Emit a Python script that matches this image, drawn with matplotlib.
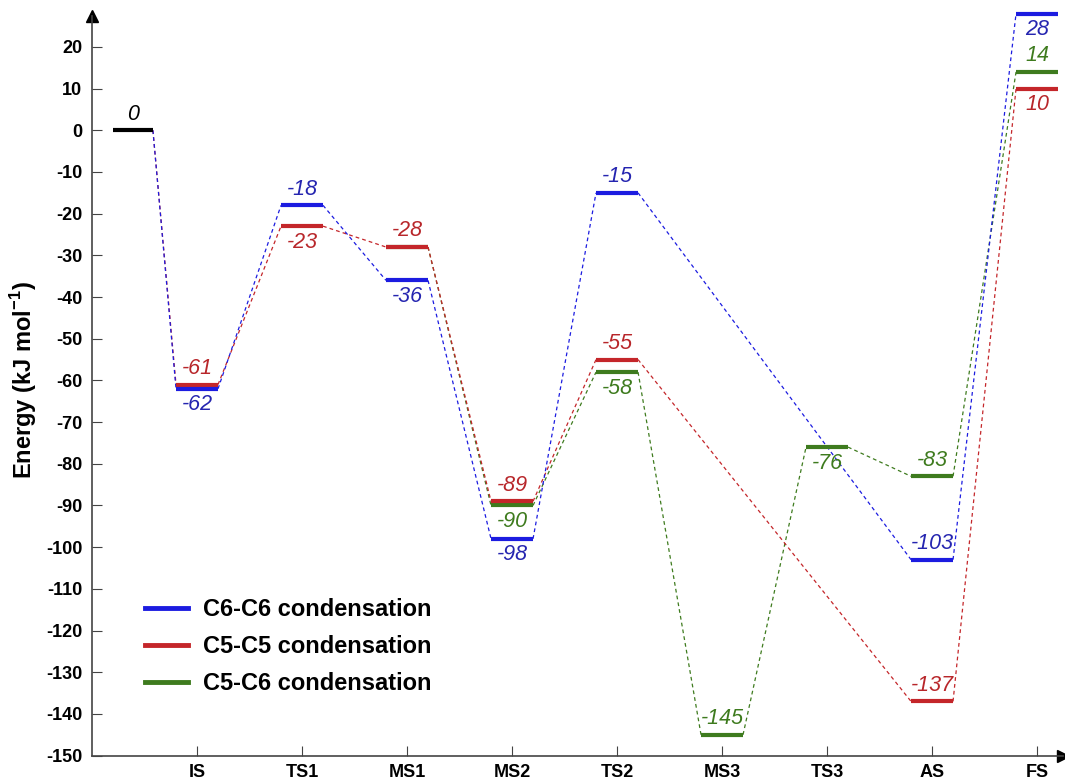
import matplotlib
matplotlib.use('Agg')
import matplotlib.pyplot as plt
from matplotlib.lines import Line2D

plt.rcParams['font.family'] = ['Liberation Sans', 'DejaVu Sans']
plt.rcParams['mathtext.fontset'] = 'custom'
plt.rcParams['mathtext.bf'] = 'Liberation Sans:bold'

# stages (index 0 is the unlabelled starting level)
stages = ['IS', 'TS1', 'MS1', 'MS2', 'TS2', 'MS3', 'TS3', 'AS', 'FS']
stagePos = [0.39, 1, 2, 3, 4, 5, 6, 7, 8, 9]

# energies in kJ/mol, None = stage skipped by that path
c6c6 = [0, -62, -18, -36, -98, -15, None, None, -103, 28]
c5c5 = [0, -61, -23, -28, -89, -55, None, None, -137, 10]
c5c6 = [None, None, None, -28, -90, -58, -145, -76, -83, 14]

# where the value label goes: 'a' above, 'b' below, None no label
c6c6Lab = [None, 'b', 'a', 'b', 'b', 'a', None, None, 'a', 'b']
c5c5Lab = [None, 'a', 'b', 'a', 'a', 'a', None, None, 'a', 'b']
c5c6Lab = [None, None, None, None, 'b', 'b', 'a', 'b', 'a', 'a']

seriesNames = ['C6-C6 condensation', 'C5-C5 condensation', 'C5-C6 condensation']

barColors = ['#1c1ce0', '#c4262a', '#3e7b1e']
textColors = ['#2525b0', '#b8262a', '#3e7b1e']

barW = 0.4
fontSize = 15.5

fig = plt.figure(figsize=(10.65, 7.83), dpi=100)
ax = fig.add_axes([0.0864, 0.035, 0.912, 0.945])


def draw_path(vals, labs, bcol, tcol, z):
    prev = None
    for i, v in enumerate(vals):
        if v is None:
            continue
        x = stagePos[i]
        w = barW if i > 0 else 0.38
        if i > 0:
            ax.plot([x - w / 2, x + w / 2], [v, v], color=bcol, lw=3,
                    solid_capstyle='butt', zorder=z, clip_on=False)
        if prev is not None:
            px, pv, pw = prev
            ax.plot([px + pw / 2, x - w / 2], [pv, v], color=bcol, lw=0.9,
                    dashes=(3, 2.5), zorder=1, clip_on=False)
        if labs[i] is not None:
            dy = 4 if labs[i] == 'a' else -4
            va = 'bottom' if labs[i] == 'a' else 'top'
            ax.annotate('{}'.format(v), (x, v), xytext=(0, dy),
                        textcoords='offset points', ha='center', va=va,
                        fontsize=fontSize, style='italic', color=tcol,
                        annotation_clip=False)
        prev = (x, v, w)


draw_path(c5c6, c5c6Lab, barColors[2], textColors[2], 3)
draw_path(c5c5, c5c5Lab, barColors[1], textColors[1], 4)
draw_path(c6c6, c6c6Lab, barColors[0], textColors[0], 5)

# starting level in black
ax.plot([stagePos[0] - 0.19, stagePos[0] + 0.19], [0, 0], color='black', lw=3,
        solid_capstyle='butt', zorder=6)
ax.annotate('0', (stagePos[0], 0), xytext=(0, 4), textcoords='offset points',
            ha='center', va='bottom', fontsize=fontSize, style='italic', color='black')

ax.set_xlim(0, 9.25)
ax.set_ylim(-150, 27.5)
ax.set_xticks(stagePos[1:])
ax.set_xticklabels(stages, fontsize=13, fontweight='bold')
ax.set_yticks(range(-150, 21, 10))
ax.set_yticklabels([str(t) for t in range(-150, 21, 10)], fontsize=13, fontweight='bold')
ax.tick_params(direction='in', length=7, color='#444444', pad=7)
ax.tick_params(axis='x', pad=6)

for s in ['top', 'right']:
    ax.spines[s].set_visible(False)
for s in ['left', 'bottom']:
    ax.spines[s].set_color('#444444')
    ax.spines[s].set_linewidth(1.2)

# axis arrows
ax.plot(1, 0, '>', color='black', ms=8, transform=ax.transAxes, clip_on=False)
ax.plot(0, 1, '^', color='black', ms=8, transform=ax.transAxes, clip_on=False)

ax.set_ylabel(r'Energy (kJ mol$^{\mathbf{-1}}$)', fontsize=17, fontweight='bold')
ax.yaxis.set_label_coords(-0.055, 0.508)

handles = [Line2D([0], [0], color=c, lw=3.5) for c in barColors]
ax.legend(handles, seriesNames, loc='center left', bbox_to_anchor=(0.033, 0.147),
          frameon=False, handlelength=1.8, handletextpad=0.65, labelspacing=0.6,
          prop={'size': 17, 'weight': 'bold'})

plt.savefig('out.png', dpi=100)
plt.close()
